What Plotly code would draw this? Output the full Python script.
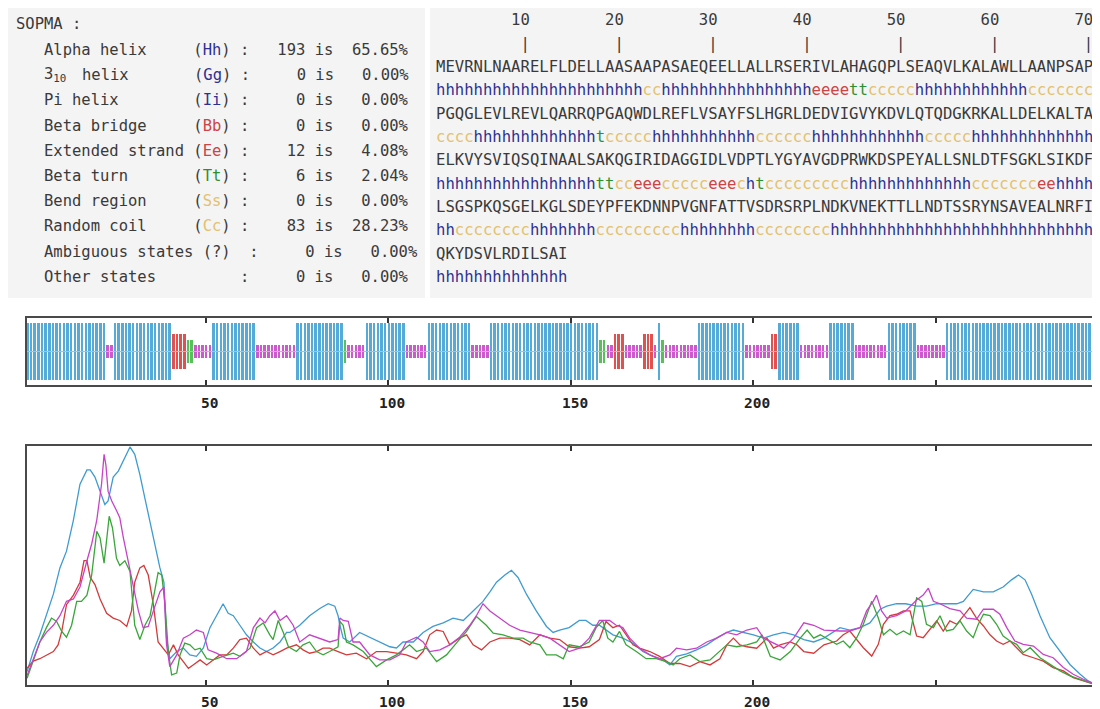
import plotly.graph_objects as go

# page body has an 8px margin: the figure is sized and shifted to compensate
OFF = 8
W, H = 1100 - OFF, 709 - OFF
def px(x): return (x - OFF) / W
def py(y): return 1 - (y - OFF) / H
def nb(s): return s.replace(" ", "\u00a0")

# ---------------- data ----------------
sequence_lines = [
    "MEVRNLNAARELFLDELLAASAAPASAEQEELLALLRSERIVLAHAGQPLSEAQVLKALAWLLAANPSAP",
    "PGQGLEVLREVLQARRQPGAQWDLREFLVSAYFSLHGRLDEDVIGVYKDVLQTQDGKRKALLDELKALTA",
    "ELKVYSVIQSQINAALSAKQGIRIDAGGIDLVDPTLYGYAVGDPRWKDSPEYALLSNLDTFSGKLSIKDF",
    "LSGSPKQSGELKGLSDEYPFEKDNNPVGNFATTVSDRSRPLNDKVNEKTTLLNDTSSRYNSAVEALNRFI",
    "QKYDSVLRDILSAI",
]
# predicted state per residue, as runs (state, length) for each printed line
structure_runs = [
    [("h", 22), ("c", 2), ("h", 16), ("e", 4), ("t", 2), ("c", 5), ("h", 12), ("c", 7)],
    [("c", 4), ("h", 13), ("t", 1), ("c", 5), ("h", 11), ("c", 6), ("h", 12), ("c", 5), ("h", 13)],
    [("h", 17), ("t", 2), ("c", 2), ("e", 3), ("c", 5), ("e", 3), ("c", 1), ("h", 1), ("t", 1),
     ("c", 9), ("h", 13), ("c", 7), ("e", 2), ("h", 4)],
    [("h", 2), ("c", 8), ("h", 7), ("c", 9), ("h", 8), ("c", 8), ("h", 28)],
    [("h", 14)],
]
structure_lines = ["".join(s * n for s, n in runs) for runs in structure_runs]
for sq, ss in zip(sequence_lines, structure_lines):
    assert len(sq) == len(ss), (len(sq), len(ss))

state_labels = ["Alpha helix", "3<sub>10</sub> helix", "Pi helix", "Beta bridge",
                "Extended strand", "Beta turn", "Bend region", "Random coil",
                "Ambiguous states (?)", "Other states"]
state_codes = ["Hh", "Gg", "Ii", "Bb", "Ee", "Tt", "Ss", "Cc", "", ""]
state_counts = [193, 0, 0, 0, 12, 6, 0, 83, 0, 0]
state_percents = [65.65, 0.00, 0.00, 0.00, 4.08, 2.04, 0.00, 28.23, 0.00, 0.00]

axis_ticks = [50, 100, 150, 200, 250]
axis_ticklabels = ["50", "100", "150", "200", ""]

helix_res = [1, 2.7, 4.5, 6.3, 8.2, 10.0, 11.8, 13.7, 15.5, 17.4, 18.3, 19.6, 21.0, 22.3, 23.2, 24.6, 26.0, 27.4, 29.2, 30.5,
             31.9, 33.3, 34.7, 36.0, 37.4, 38.5, 39.2, 40.1, 42.0, 43.8, 45.6, 47.4, 49.3, 51.1, 52.9, 54.7, 56.1, 57.5, 59.3,
             61.1, 63.0, 64.8, 66.6, 68.4, 70.3, 72.1,
             73.0, 75.7, 78.4, 81.2, 83.5, 85.3, 86.2, 86.7, 87.6, 89.4, 92.1, 94.9, 97.6, 100.4, 102.2, 104.0, 106.8, 109.5,
             112.2, 115.0, 117.7, 120.5, 123.2, 125.9, 127.8, 129.6, 131.9, 133.7, 135.5, 137.8, 140.5, 143.3, 145.1, 146.9,
             149.5, 152.3, 154.1, 156.0, 157.8, 159.6, 161.5, 164.2, 167.0, 169.7, 172.5, 175.2, 177.1, 178.9, 181.7, 184.4,
             187.2, 189.9, 192.7, 194.5, 197.2, 200.0, 202.8, 205.5, 208.3, 211.0, 213.8, 216.5, 219.3,
             223.7, 226.4, 229.2, 231.9, 234.7, 236.5, 239.2, 241.7, 244.7, 247.4, 250.2, 252.9, 255.7, 257.5, 260.2, 263.0,
             265.7, 268.4, 270.7, 272.6, 274.4, 276.2, 278.5, 281.2, 284.0, 286.7, 289.5, 291.7, 294]
helix_val = [0.056, 0.14, 0.21, 0.29, 0.38, 0.49, 0.56, 0.69, 0.84, 0.90, 0.90, 0.87, 0.81, 0.755, 0.77, 0.87, 0.895, 0.94, 0.996, 0.965,
             0.88, 0.78, 0.685, 0.59, 0.49, 0.43, 0.196, 0.11, 0.14, 0.155, 0.126, 0.12, 0.155, 0.24, 0.29, 0.34, 0.30, 0.29, 0.25,
             0.21, 0.18, 0.155, 0.14, 0.155, 0.18, 0.22,
             0.22, 0.25, 0.29, 0.32, 0.34, 0.33, 0.29, 0.25, 0.196, 0.18, 0.22, 0.20, 0.18, 0.16, 0.155, 0.18, 0.18, 0.22,
             0.245, 0.26, 0.28, 0.27, 0.31, 0.35, 0.39, 0.43, 0.46, 0.48, 0.45, 0.38, 0.31, 0.245, 0.22, 0.23,
             0.24, 0.27, 0.27, 0.25, 0.25, 0.23, 0.21, 0.196, 0.175, 0.14, 0.12, 0.105, 0.084, 0.12, 0.13, 0.147,
             0.168, 0.196, 0.22, 0.23, 0.22, 0.21, 0.196, 0.21, 0.22, 0.21, 0.19, 0.18, 0.196,
             0.24, 0.23, 0.24, 0.26, 0.317, 0.33, 0.34, 0.34, 0.33, 0.33, 0.34, 0.34, 0.34, 0.35, 0.40, 0.39,
             0.39, 0.41, 0.44, 0.46, 0.44, 0.38, 0.29, 0.198, 0.14, 0.086, 0.045, 0.017, 0.0]

coil_res = [1, 2.7, 4.5, 6.3, 8.2, 10.0, 11.8, 13.7, 15.5, 17.4, 18.7, 20.1, 21.4, 22.1, 22.6, 23.2, 24.2, 25.5, 26.4, 27.4,
            28.7, 30.1, 31.5, 32.8, 34.2, 35.6, 37.4, 38.5, 39.2, 40.1, 42.0, 43.8, 45.6, 47.4, 49.3, 50.6, 52.9, 55.7, 58.4,
            61.1, 63.0, 64.8, 66.2, 67.5, 68.9, 70.3, 72.1, 73.9,
            75.7, 78.4, 81.2, 83.9, 86.2, 86.7, 87.6, 89.0, 90.3, 92.1, 94.9, 97.6, 100.4, 103.1, 104.9, 107.7, 109.5, 111.3,
            114.1, 116.8, 119.5, 122.3, 124.1, 125.9, 127.8, 130.5, 133.2, 136.0, 138.7, 141.5, 144.2, 146.9,
            149.5, 152.3, 155.0, 157.8, 160.6, 162.4, 164.2, 166.1, 168.8, 171.6, 174.3, 177.1, 178.9, 181.7, 184.4, 187.2,
            189.9, 192.7, 195.4, 198.2, 200.9, 202.8, 205.5, 208.3, 211.0, 213.8, 216.5, 219.3,
            223.7, 226.4, 229.2, 231.0, 232.8, 233.7, 235.1, 236.5, 239.2, 241.7, 244.7, 246.5, 247.9, 249.3, 251.1, 253.8,
            256.6, 258.4, 261.1, 263.0, 265.7, 267.5, 269.4, 271.6, 273.9, 276.7, 279.4, 282.1, 284.9, 287.6, 290.4, 294]
coil_val = [0.04, 0.11, 0.18, 0.22, 0.25, 0.29, 0.35, 0.36, 0.41, 0.52, 0.59, 0.69, 0.84, 0.965, 0.92, 0.81, 0.77, 0.73, 0.70, 0.615,
            0.52, 0.41, 0.31, 0.24, 0.245, 0.31, 0.39, 0.41, 0.17, 0.077, 0.126, 0.196, 0.21, 0.23, 0.22, 0.147, 0.133, 0.11, 0.11,
            0.14, 0.24, 0.28, 0.26, 0.29, 0.31, 0.27, 0.29, 0.25,
            0.18, 0.21, 0.196, 0.18, 0.19, 0.28, 0.27, 0.266, 0.18, 0.18, 0.126, 0.105, 0.105, 0.126, 0.18, 0.20, 0.18, 0.14,
            0.147, 0.168, 0.20, 0.25, 0.29, 0.34, 0.31, 0.28, 0.25, 0.23, 0.22, 0.21, 0.196, 0.168,
            0.14, 0.154, 0.196, 0.27, 0.27, 0.25, 0.24, 0.196, 0.154, 0.126, 0.11, 0.126, 0.154, 0.147, 0.154, 0.18,
            0.196, 0.22, 0.21, 0.23, 0.24, 0.196, 0.175, 0.154, 0.196, 0.26, 0.25, 0.23,
            0.226, 0.226, 0.24, 0.31, 0.35, 0.376, 0.31, 0.28, 0.29, 0.31, 0.356, 0.376, 0.405, 0.35, 0.34, 0.32,
            0.31, 0.28, 0.275, 0.317, 0.317, 0.296, 0.24, 0.184, 0.17, 0.163, 0.128, 0.114, 0.073, 0.045, 0.024, 0.0]

turn_res = [1, 2.7, 4.5, 6.3, 7.7, 9.1, 10.5, 11.8, 13.2, 14.6, 15.9, 17.4, 18.7, 20.1, 21.0, 22.1, 22.6, 23.5, 24.4, 25.5,
            26.4, 27.8, 29.2, 30.5, 31.9, 33.3, 34.7, 36.0, 36.9, 37.9, 38.8, 39.7, 40.6, 42.0, 42.9, 44.2, 45.6, 47.0, 48.4,
            50.2, 52.0, 54.7, 57.5, 59.3, 62.1, 63.9, 65.7, 67.5, 68.4, 69.8, 71.2, 72.6,
            74.8, 76.6, 78.4, 80.3, 82.1, 83.9, 86.2, 86.7, 87.6, 88.5, 90.3, 93.1, 94.9, 96.7, 99.5, 102.2, 104.0, 105.8,
            107.7, 110.4, 113.2, 115.9, 118.6, 121.4, 124.1, 126.8, 128.7, 131.4, 134.2, 136.9, 138.7, 141.5, 143.3, 146.0,
            147.9, 149.5, 152.3, 155.0, 156.9, 158.7, 160.1, 161.5, 163.3, 165.1, 167.9, 170.6, 173.4, 176.1, 178.0, 179.8,
            182.6, 185.3, 188.1, 190.8, 192.7, 195.4, 198.2, 200.9, 202.3, 204.6, 207.3, 210.1, 212.8, 214.7, 216.5, 218.3,
            222.8, 224.6, 226.4, 228.3, 230.1, 232.4, 234.2, 235.6, 237.4, 239.2, 241.1, 242.9, 244.7, 246.1, 247.4, 249.3,
            251.1, 252.9, 254.7, 256.6, 258.4, 260.2, 261.6, 263.0, 264.8, 266.6, 268.4, 270.3, 272.1, 273.9, 275.8, 278.5,
            281.2, 284.0, 286.7, 289.5, 294]
turn_val = [0.028, 0.10, 0.18, 0.24, 0.28, 0.266, 0.224, 0.20, 0.25, 0.35, 0.35, 0.376, 0.46, 0.643, 0.615, 0.51, 0.587, 0.706, 0.657, 0.53,
            0.50, 0.52, 0.475, 0.25, 0.19, 0.25, 0.29, 0.39, 0.47, 0.46, 0.336, 0.14, 0.042, 0.05, 0.126, 0.175, 0.168, 0.147, 0.154,
            0.11, 0.105, 0.12, 0.133, 0.12, 0.154, 0.24, 0.26, 0.21, 0.19, 0.27, 0.22, 0.16,
            0.14, 0.168, 0.18, 0.14, 0.126, 0.14, 0.16, 0.266, 0.25, 0.18, 0.168, 0.14, 0.11, 0.077, 0.105, 0.126, 0.147, 0.168,
            0.14, 0.154, 0.098, 0.126, 0.175, 0.224, 0.287, 0.25, 0.217, 0.21, 0.196, 0.196, 0.18, 0.168, 0.126, 0.126,
            0.11, 0.168, 0.16, 0.18, 0.24, 0.27, 0.196, 0.18, 0.224, 0.168, 0.14, 0.11, 0.11, 0.098, 0.084, 0.11,
            0.126, 0.098, 0.105, 0.14, 0.168, 0.16, 0.168, 0.18, 0.21, 0.12, 0.105, 0.14, 0.196, 0.23, 0.196, 0.21,
            0.17, 0.184, 0.156, 0.198, 0.254, 0.351, 0.28, 0.21, 0.233, 0.21, 0.226, 0.21, 0.365, 0.35, 0.254, 0.24,
            0.29, 0.226, 0.233, 0.268, 0.226, 0.198, 0.254, 0.296, 0.29, 0.254, 0.205, 0.184, 0.17, 0.135, 0.156, 0.114,
            0.086, 0.059, 0.038, 0.024, 0.0]

strand_res = [1, 2.7, 4.5, 6.3, 8.2, 9.5, 10.5, 11.8, 13.7, 15.5, 16.6, 17.4, 18.3, 19.6, 21.0, 22.8, 24.6, 26.4, 28.3, 29.6,
              30.5, 31.9, 33.0, 34.2, 35.6, 36.9, 38.3, 39.7, 41.1, 42.4, 43.8, 45.2, 46.5, 48.4, 50.2, 52.0, 53.8, 55.7, 57.5,
              59.3, 61.1, 63.0, 64.8, 66.6, 68.4, 70.3, 72.1,
              74.8, 76.6, 78.4, 80.3, 82.1, 83.9, 86.2, 88.5, 91.2, 94.0, 96.7, 99.5, 102.2, 104.9, 107.7, 109.5, 111.3, 113.2,
              115.0, 116.8, 119.5, 121.4, 123.2, 125.5, 127.8, 130.5, 133.2, 136.0, 138.7, 141.5, 144.2, 146.9,
              149.5, 152.3, 155.0, 157.8, 159.6, 161.5, 163.3, 165.1, 167.0, 168.8, 171.6, 174.3, 177.1, 179.8, 182.6, 185.3,
              188.1, 190.8, 192.7, 194.5, 196.3, 198.2, 200.9, 203.7, 205.5, 207.3, 210.1, 211.9, 213.8, 216.5, 219.3,
              222.8, 224.6, 226.4, 228.3, 230.1, 232.4, 234.2, 235.6, 237.4, 239.2, 241.1, 242.9, 244.7, 246.5, 248.4, 250.2,
              252.0, 253.8, 255.7, 257.5, 259.3, 261.1, 263.0, 264.8, 266.6, 268.4, 270.3, 272.1, 273.9, 276.7, 279.4, 282.1,
              284.9, 287.6, 290.4, 294]
strand_val = [0.07, 0.10, 0.11, 0.126, 0.14, 0.168, 0.224, 0.336, 0.376, 0.43, 0.52, 0.52, 0.45, 0.42, 0.36, 0.30, 0.28, 0.27, 0.245, 0.31,
              0.43, 0.49, 0.50, 0.46, 0.336, 0.18, 0.154, 0.126, 0.168, 0.126, 0.098, 0.07, 0.084, 0.105, 0.084, 0.105, 0.126, 0.126, 0.154,
              0.19, 0.196, 0.154, 0.126, 0.14, 0.126, 0.14, 0.154,
              0.168, 0.147, 0.133, 0.14, 0.154, 0.154, 0.14, 0.126, 0.133, 0.11, 0.14, 0.14, 0.133, 0.126, 0.11, 0.14, 0.21, 0.23,
              0.224, 0.168, 0.196, 0.21, 0.168, 0.147, 0.18, 0.196, 0.196, 0.19, 0.168, 0.21, 0.196, 0.19,
              0.16, 0.154, 0.16, 0.19, 0.266, 0.24, 0.25, 0.21, 0.168, 0.154, 0.14, 0.12, 0.09, 0.09, 0.077, 0.098,
              0.084, 0.11, 0.168, 0.196, 0.168, 0.16, 0.154, 0.196, 0.154, 0.168, 0.18, 0.168, 0.14, 0.133, 0.168,
              0.184, 0.21, 0.226, 0.19, 0.156, 0.121, 0.17, 0.254, 0.29, 0.296, 0.31, 0.31, 0.205, 0.198, 0.233, 0.268,
              0.226, 0.268, 0.254, 0.29, 0.324, 0.28, 0.247, 0.21, 0.184, 0.17, 0.184, 0.156, 0.128, 0.114, 0.1, 0.073,
              0.059, 0.031, 0.017, 0.0]

# ---------------- styles ----------------
SS_TEXT_COL = {"h": "#2e3192", "e": "#cc4444", "t": "#2f8f2f", "c": "#e3c16f", "s": "#e3c16f",
               "g": "#2e3192", "i": "#2e3192", "b": "#cc4444"}
BAR_COL = {"h": "#56aad8", "e": "#e05252", "t": "#58c058", "c": "#cc5acc"}
BAR_HALF = {"h": 0.84, "e": 0.52, "t": 0.34, "c": 0.19}
LINE_COL = {"h": "#3f9bd0", "e": "#d43a3a", "t": "#3aa53a", "c": "#c842c8"}
MONO = "DejaVu Sans Mono"
TXT = "#3a3a3a"
FS = 15.5
CW = 9.4  # character advance in px

XR = [0.9, 293.1]
X0, X1 = 26.7, 1093.3

fig = go.Figure()

# ---- strip of predicted states (one bar per residue) ----
structure = "".join(structure_lines)
for st in ["h", "e", "t", "c"]:
    xs = [i + 1 for i, s in enumerate(structure) if s == st]
    hh = BAR_HALF[st]
    fig.add_trace(go.Bar(
        x=xs, y=[2 * hh] * len(xs), base=[-hh] * len(xs), width=0.68,
        marker=dict(color=BAR_COL[st], line=dict(width=0)),
        xaxis="x", yaxis="y", hoverinfo="skip", showlegend=False))
fig.add_trace(go.Scatter(x=[XR[0], XR[1]], y=[0, 0], mode="lines",
                         line=dict(color="#d7a6dd", width=1), xaxis="x", yaxis="y",
                         hoverinfo="skip", showlegend=False))

# ---- probability curves ----
for res, val, st in [(helix_res, helix_val, "h"), (strand_res, strand_val, "e"),
                     (turn_res, turn_val, "t"), (coil_res, coil_val, "c")]:
    fig.add_trace(go.Scatter(x=res, y=val, mode="lines",
                             line=dict(color=LINE_COL[st], width=1.3),
                             xaxis="x2", yaxis="y2", hoverinfo="skip", showlegend=False))

axis_common = dict(range=XR, showgrid=False, zeroline=False, showline=True, linecolor="#4a4a4a",
                   linewidth=1.6, mirror="ticks", ticks="inside", ticklen=5, tickwidth=1.5,
                   tickcolor="#333", tickvals=axis_ticks, showticklabels=False,
                   domain=[px(X0), px(X1)])
yaxis_common = dict(showgrid=False, zeroline=False, showline=True, linecolor="#4a4a4a",
                    linewidth=1.6, mirror=True, ticks="", showticklabels=False)

fig.update_layout(
    width=W, height=H, margin=dict(l=0, r=0, t=0, b=0),
    paper_bgcolor="white", plot_bgcolor="white", bargap=0, barmode="overlay",
    xaxis=dict(**axis_common, anchor="y"),
    yaxis=dict(**yaxis_common, range=[-1, 1], domain=[py(385), py(318)], anchor="x"),
    xaxis2=dict(**axis_common, anchor="y2"),
    yaxis2=dict(**yaxis_common, range=[0, 1], domain=[py(685), py(446)], anchor="x2"),
    showlegend=False,
)

shapes = [
    dict(type="rect", xref="paper", yref="paper", x0=px(8), x1=px(425), y0=py(298), y1=py(8),
         fillcolor="#f4f4f4", line=dict(width=0), layer="below"),
    dict(type="rect", xref="paper", yref="paper", x0=px(430), x1=px(1100), y0=py(298), y1=py(8),
         fillcolor="#f4f4f4", line=dict(width=0), layer="below"),
]
fig.update_layout(shapes=shapes)

ann = []
def text(x, y, s, size=FS, color=TXT, anchor="left", family=MONO):
    ann.append(dict(xref="paper", yref="paper", x=px(x), y=py(y), text=s, showarrow=False,
                    xanchor=anchor, yanchor="middle", borderpad=0,
                    font=dict(family=family, size=size, color=color)))

# ---- table of states ----
text(15, 24.5, nb("SOPMA :"))
row_y0, row_dy = 50, 25.2
for k in range(len(state_labels)):
    y = row_y0 + k * row_dy
    lab, code, n, p = state_labels[k], state_codes[k], state_counts[k], state_percents[k]
    pct = f"{p:.2f}%"
    if code:
        col = SS_TEXT_COL[code[1]]
        rest = nb(" :   " + f"{n:>3}" + " is  " + f"{pct:>6}")
        codehtml = "(" + f"<span style='color:{col}'>{code}</span>" + ")"
        if "<sub>" in lab:
            text(15 + 3 * CW, y, "3<sub>10</sub>")
            text(15 + 7 * CW, y, nb(f"{'helix':<12}") + codehtml + rest)
        else:
            text(15 + 3 * CW, y, nb(f"{lab:<16}") + codehtml + rest)
    else:
        if lab.startswith("Ambiguous"):
            s = f"{lab}  :     {n} is   {pct}"
        else:
            s = f"{lab:<21}:     {n} is   {pct}"
        text(15 + 3 * CW, y, nb(s))

# ---- sequence panel ----
SX = 435
SFS = 15.6
hdr = [" "] * 70
bars = [" "] * 70
for k in range(10, 71, 10):
    lab = str(k)
    for j, ch in enumerate(lab):
        hdr[k - len(lab) + j] = ch
    bars[k - 1] = "|"
line_y0, line_dy = 20.5, 23.3
text(SX, line_y0, nb("".join(hdr)), size=SFS)
text(SX, line_y0 + line_dy, nb("".join(bars)), size=SFS)

def colored(ss):
    out, i = [], 0
    while i < len(ss):
        j = i
        while j < len(ss) and ss[j] == ss[i]:
            j += 1
        out.append(f"<span style='color:{SS_TEXT_COL[ss[i]]}'>{ss[i:j]}</span>")
        i = j
    return "".join(out)

for k, (sq, ss) in enumerate(zip(sequence_lines, structure_lines)):
    ys = line_y0 + (2 + 2 * k) * line_dy
    text(SX, ys, sq, size=SFS, color="#3a3a3a")
    text(SX, ys + line_dy, colored(ss), size=SFS)

# ---- position labels ----
for tv, tl in zip(axis_ticks, axis_ticklabels):
    if not tl:
        continue
    for yy in (403, 702):
        ann.append(dict(xref="x", yref="paper", x=tv, y=py(yy), text=f"<b>{tl}</b>", showarrow=False,
                        xanchor="center", yanchor="middle", xshift=4, borderpad=0,
                        font=dict(family=MONO, size=14.5, color="#222")))

fig.update_layout(annotations=ann)
fig.write_html("out.html")
